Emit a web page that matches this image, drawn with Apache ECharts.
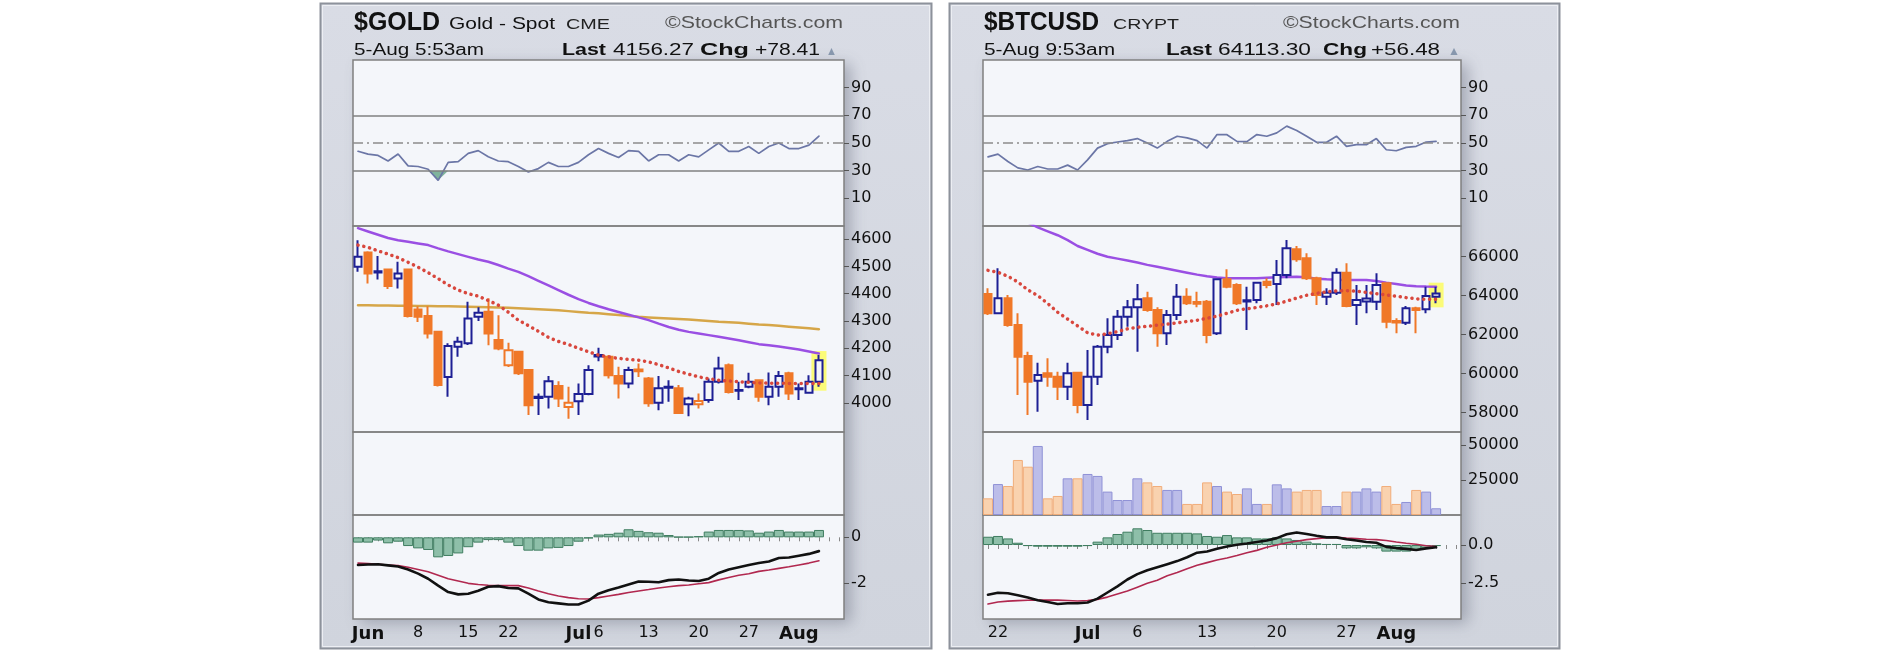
<!DOCTYPE html>
<html><head><meta charset="utf-8">
<script src="https://cdn.jsdelivr.net/npm/echarts@6/dist/echarts.min.js"></script>
<style>html,body{margin:0;padding:0;background:#fff;}#c{width:1882px;height:654px;}</style>
</head><body><div id="c"></div>
<script>
// ---------------- DATA ----------------
const goldLabels = ['', 'Jun', '', '', '', '', '8', '', '', '', '', '15', '', '', '', '22', '', '', '', '', '', '', 'Jul', '', '6', '', '', '', '', '13', '', '', '', '', '20', '', '', '', '', '27', '', '', '', '', 'Aug', '', '', '', ''];
const goldPrevClose = 4480;
const goldOpen  = [4499,4551,4478,4489,4456,4489,4342,4318,4260,4095,4205,4218,4315,4334,4230,4138,4187,4120,4018,4022,4062,3985,4006,4032,4170,4169,4098,4071,4122,4089,4000,4055,4053,3995,3995,4010,4077,4138,4044,4059,4083,4022,4059,4108,4050,4037,4077];
const goldClose = [4535,4474,4482,4428,4474,4318,4315,4254,4065,4208,4224,4309,4330,4254,4199,4193,4108,3991,4022,4079,4016,4000,4032,4120,4175,4101,4071,4120,4116,3998,4053,4059,3963,4016,4007,4077,4126,4040,4047,4077,4022,4059,4098,4034,4053,4077,4156];
const goldLow   = [4480,4437,4452,4417,4419,4313,4296,4236,4060,4022,4169,4212,4300,4211,4193,4131,4102,3955,3955,3979,3985,3942,3955,4028,4152,4089,4016,4053,4095,3986,3973,4004,3961,3951,3979,4000,4071,4034,4010,4053,4004,3991,4022,4010,4010,4034,4059];
const goldHigh  = [4596,4555,4538,4492,4517,4492,4354,4354,4262,4218,4242,4370,4350,4383,4321,4220,4190,4122,4034,4098,4079,4059,4071,4138,4202,4175,4132,4132,4144,4095,4098,4083,4065,4022,4034,4089,4169,4144,4077,4110,4085,4111,4117,4114,4071,4101,4175];
const goldSma20  = [4578,4570,4557,4545,4532,4515,4497,4477,4455,4432,4413,4400,4391,4375,4358,4332,4303,4283,4262,4240,4225,4214,4200,4187,4175,4168,4163,4159,4156,4150,4140,4128,4115,4105,4095,4088,4083,4080,4077,4075,4073,4072,4072,4071,4071,4071,4071];
const goldSma50  = [4640,4628,4616,4604,4596,4590,4584,4578,4566,4555,4545,4535,4525,4517,4505,4492,4480,4464,4447,4430,4413,4396,4380,4366,4354,4343,4333,4323,4313,4303,4290,4278,4268,4260,4254,4248,4242,4236,4229,4222,4215,4211,4206,4201,4195,4188,4181];
const goldSma200 = [4358,4358,4357,4357,4356,4356,4355,4355,4354,4354,4353,4352,4351,4350,4349,4348,4347,4345,4343,4341,4339,4336,4333,4330,4328,4325,4322,4318,4315,4313,4311,4309,4307,4305,4303,4300,4297,4295,4293,4290,4287,4285,4282,4279,4276,4273,4270];
const goldRsi = [44,42,41,37,42,33.5,33,31,23,36,36.5,42.5,44.5,40,37,36.5,33,29,31.5,36,33,33,36,41.5,46,42.5,39.5,44.5,44,37,41.5,41.5,37,41.5,40,45,50,44,44,47.5,42.5,47.5,50,46,46,48.5,55];
const goldMacd = [-1.2,-1.18,-1.17,-1.22,-1.27,-1.4,-1.58,-1.8,-2.1,-2.38,-2.48,-2.45,-2.32,-2.15,-2.12,-2.2,-2.22,-2.45,-2.7,-2.82,-2.87,-2.92,-2.92,-2.75,-2.45,-2.3,-2.18,-2.05,-1.92,-1.93,-1.95,-1.86,-1.83,-1.88,-1.9,-1.8,-1.55,-1.4,-1.3,-1.2,-1.12,-1.05,-0.9,-0.88,-0.8,-0.72,-0.6];
const goldSignal = [-1.12,-1.14,-1.17,-1.2,-1.23,-1.3,-1.4,-1.5,-1.65,-1.8,-1.9,-2.0,-2.05,-2.08,-2.1,-2.1,-2.1,-2.2,-2.33,-2.45,-2.55,-2.62,-2.67,-2.68,-2.62,-2.55,-2.48,-2.4,-2.33,-2.27,-2.2,-2.15,-2.1,-2.07,-2.02,-1.97,-1.85,-1.75,-1.65,-1.58,-1.48,-1.42,-1.35,-1.28,-1.2,-1.12,-1.02];
const goldHist = [-0.23,-0.23,-0.14,-0.26,-0.19,-0.38,-0.48,-0.55,-0.87,-0.81,-0.70,-0.43,-0.23,-0.12,-0.12,-0.23,-0.38,-0.58,-0.58,-0.48,-0.46,-0.38,-0.19,-0.05,0.12,0.15,0.2,0.35,0.28,0.22,0.2,0.1,0.02,0.02,0.05,0.25,0.32,0.32,0.32,0.3,0.2,0.25,0.32,0.25,0.25,0.25,0.32];
const goldRsiTicks = [10, 30, 50, 70, 90];
const goldPriceTicks = [4000, 4100, 4200, 4300, 4400, 4500, 4600];
const goldMacdTicks = [0, -2];

const btcLabels = ['', '22', '', '', '', '', '', '', '', '', 'Jul', '', '', '', '', '6', '', '', '', '', '', '', '13', '', '', '', '', '', '', '20', '', '', '', '', '', '', '27', '', '', '', '', 'Aug', '', '', '', '', '', ''];
const btcPrevClose = 64500;
const btcOpen  = [64085,63094,63863,62496,60906,59641,60017,59846,59333,60051,58393,59846,61385,61983,62923,63402,63863,63265,62068,63008,63949,63680,63692,62068,64838,64547,63700,63778,64718,64598,65060,66376,65914,64889,63949,64154,65180,63521,63700,63692,64632,62700,62616,63350,63300,63949];
const btcClose = [63094,63863,62496,60872,59590,59932,59846,59333,60017,58393,59846,61385,61983,62923,63402,63812,63265,62068,63008,63949,63607,63590,61983,64838,64462,63607,63770,64667,64547,65060,66427,65863,64889,64034,64154,65180,63470,63778,63850,64547,62667,62620,63350,63265,63983,64113];
const btcLow   = [63008,63060,62410,58906,57880,58052,59333,58650,58650,57966,57624,59419,61043,61727,62410,61128,63179,61385,61470,62752,63521,63402,61556,61983,64376,63521,62240,63607,64376,63521,64889,65743,64804,63521,63521,64034,63402,62496,63094,63265,62325,62068,62496,62068,63094,63607];
const btcHigh  = [64376,65402,64034,63094,61128,60564,60786,60103,60564,60103,61214,61470,62838,63265,63778,64598,64205,63402,63265,64598,64376,64205,63778,64889,65350,64632,64462,64718,64889,65829,66855,66547,66171,64974,64376,65402,65658,64547,64547,65145,64667,62838,63470,63436,64462,64462];
const btcSma20 = [65300,65200,65000,64700,64300,64000,63600,63150,62800,62450,62100,61980,62050,62150,62300,62380,62430,62490,62540,62610,62680,62740,62840,62950,63100,63250,63330,63400,63480,63580,63720,63880,64020,64120,64200,64240,64260,64230,64170,64100,64040,63970,63900,63840,63812,63812];
const btcSma50 = [68800,68550,68250,68000,67750,67500,67300,67100,66850,66550,66350,66150,66000,65900,65800,65700,65580,65480,65380,65280,65180,65080,65000,64930,64890,64890,64890,64900,64920,64940,64960,64970,64950,64870,64840,64820,64810,64805,64800,64750,64670,64600,64520,64490,64470,64460];
const btcVolume = [11900,22100,20700,39300,34500,49300,11900,13600,26200,26200,29300,27900,16700,10700,10700,26200,23300,20700,17900,17900,7900,7900,23300,20700,16700,15000,19000,7900,7900,21900,19000,16700,17900,17900,6400,6400,16700,16700,19000,16700,20700,7900,9300,17900,16700,4800];
const btcRsi = [40,42,36.6,32,30.5,33,31.2,31.2,34,30.5,37.8,46.3,49.5,50.7,51.7,53.2,50,46.3,51.2,54.9,53.7,51.7,46.3,56.1,56,51.2,51,56.1,54.9,57.3,62.2,59,54.9,50.5,50.5,54.9,47.6,48.8,48.8,53.2,45.1,44.4,46.8,47.6,50.7,51.2];
const btcMacd = [-3.25,-3.12,-3.15,-3.28,-3.42,-3.6,-3.72,-3.85,-3.8,-3.8,-3.75,-3.5,-3.1,-2.7,-2.25,-1.9,-1.65,-1.45,-1.25,-1.05,-0.8,-0.5,-0.42,-0.25,-0.1,0.02,0.1,0.2,0.3,0.45,0.7,0.82,0.72,0.6,0.5,0.5,0.38,0.3,0.2,0.15,-0.12,-0.2,-0.25,-0.32,-0.22,-0.15];
const btcSignal = [-3.85,-3.72,-3.66,-3.63,-3.61,-3.6,-3.6,-3.6,-3.62,-3.65,-3.62,-3.55,-3.4,-3.2,-3.0,-2.75,-2.5,-2.3,-2.0,-1.8,-1.55,-1.32,-1.15,-0.98,-0.85,-0.68,-0.5,-0.35,-0.15,0.0,0.15,0.25,0.35,0.42,0.48,0.5,0.45,0.42,0.38,0.35,0.3,0.2,0.12,0.05,-0.05,-0.1];
const btcHist = [0.54,0.59,0.43,0.15,-0.07,-0.11,-0.11,-0.11,-0.11,-0.11,-0.07,0.22,0.5,0.72,0.87,1.09,0.98,0.8,0.8,0.8,0.8,0.76,0.59,0.54,0.65,0.5,0.5,0.43,0.43,0.5,0.43,0.33,0.22,0.11,0.07,0.07,-0.22,-0.22,-0.15,-0.22,-0.43,-0.43,-0.43,-0.33,-0.22,-0.07];
const btcRsiTicks = [10, 30, 50, 70, 90];
const btcPriceTicks = [58000, 60000, 62000, 64000, 66000];
const btcVolumeTicks = [25000, 50000];
const btcMacdTicks = [0, -2.5];

// ---------------- STYLE / LAYOUT ----------------
const BLUE = '#1d1f94', ORANGE = '#f07828', PLOTBG = '#f4f6fa';
const VOL_BLUE = ['#bcbde9', '#8f91d6'], VOL_ORANGE = ['#f9d2af', '#f1ad7a'];
const SEP = '#808080';
const Y = {top: 60, rsiB: 226, priceB: 432, volB: 515, bot: 619};
const panels = [
  {ox: 320, ow: 612, px: 353, pw: 491},
  {ox: 949, ow: 611, px: 983, pw: 478}
];
const AXFONT = 'DejaVu Sans';

const grids = [], xAxes = [], yAxes = [], series = [], graphics = [];

function addGrid(p, top, bottom) {
  grids.push({left: p.px, top: top, width: p.pw, height: bottom - top, show: true,
    backgroundColor: 'transparent', borderColor: SEP, borderWidth: 1.5, z: 0, outerBoundsMode: 'none'});
  return grids.length - 1;
}
function addX(gi, labels, show) {
  xAxes.push({type: 'category', gridIndex: gi, data: labels.map((_, i) => String(i)), boundaryGap: true,
    axisLine: {show: false}, splitLine: {show: false},
    axisTick: {show: show, interval: 0, alignWithLabel: true, length: 4, lineStyle: {color: '#888', width: 1}},
    axisLabel: {show: show, interval: 0, margin: 6, color: '#111', fontFamily: AXFONT, fontSize: 16,
      formatter: v => { const s = labels[+v]; if (!s) return ''; return /^\d+$/.test(s) ? s : '{m|' + s + '}'; },
      rich: {m: {fontWeight: 'bold', fontSize: 18, fontFamily: AXFONT, color: '#111'}}}
  });
}
function addY(gi, min, max, ticks, fmt) {
  const has = !!ticks;
  yAxes.push({type: 'value', gridIndex: gi, position: 'right', min: min, max: max, scale: true,
    splitLine: {show: false}, axisLine: {show: false},
    axisTick: {show: has, customValues: ticks, length: 5, lineStyle: {color: '#555'}},
    axisLabel: {show: has, customValues: ticks, margin: 7, color: '#111', fontFamily: AXFONT, fontSize: 16,
      formatter: fmt || (v => String(v))}
  });
}
function candleItems(o, c, l, h, prev) {
  return o.map((op, i) => {
    const pc = i ? c[i - 1] : prev;
    const col = c[i] >= pc ? BLUE : ORANGE;
    const fill = c[i] > op ? PLOTBG : col;
    return {value: [op, c[i], l[i], h[i]],
      itemStyle: {color: fill, color0: fill, borderColor: col, borderColor0: col, borderWidth: 2}};
  });
}
function volumeItems(vol, c, prev) {
  return vol.map((v, i) => {
    const pc = i ? c[i - 1] : prev;
    const s = c[i] >= pc ? VOL_BLUE : VOL_ORANGE;
    return {value: v, itemStyle: {color: s[0], borderColor: s[1], borderWidth: 1}};
  });
}
function lineS(gi, data, color, width, type, z) {
  return {type: 'line', xAxisIndex: gi, yAxisIndex: gi, data: data, symbol: 'none', silent: true, z: z || 4,
    clip: true, lineStyle: {color: color, width: width, type: type || 'solid', cap: 'round'}};
}

function buildPanel(p, d) {
  // RSI
  const g0 = addGrid(p, Y.top, Y.rsiB);
  addX(g0, d.labels, false);
  addY(g0, -10, 110, d.rsiTicks);
  series.push({type: 'line', xAxisIndex: g0, yAxisIndex: g0, stack: 'rsi' + g0, silent: true, symbol: 'none',
    data: d.rsi.map(v => Math.min(v, 30)), lineStyle: {opacity: 0}});
  series.push({type: 'line', xAxisIndex: g0, yAxisIndex: g0, stack: 'rsi' + g0, silent: true, symbol: 'none',
    data: d.rsi.map(v => 30 - Math.min(v, 30)), lineStyle: {opacity: 0}, areaStyle: {color: '#7fb39c', opacity: 1}});
  const rsiLine = lineS(g0, d.rsi, '#6b76a6', 1.7);
  rsiLine.markLine = {silent: true, symbol: 'none', label: {show: false}, animation: false,
    data: [
      {yAxis: 70, lineStyle: {color: SEP, width: 1.5, type: 'solid'}},
      {yAxis: 30, lineStyle: {color: SEP, width: 1.5, type: 'solid'}},
      {yAxis: 50, lineStyle: {color: '#8c8c8c', width: 1.5, type: [10, 4, 2, 4]}}
    ]};
  series.push(rsiLine);

  // Price
  const g1 = addGrid(p, Y.rsiB, Y.priceB);
  addX(g1, d.labels, false);
  addY(g1, d.pMin, d.pMax, d.priceTicks);
  const last = d.close.length - 1;
  series.push({type: 'custom', xAxisIndex: g1, yAxisIndex: g1, z: 1, silent: true,
    data: [[last, d.low[last], d.high[last]]],
    renderItem: (params, api) => {
      const top = api.coord([api.value(0), api.value(2)]);
      const bot = api.coord([api.value(0), api.value(1)]);
      const w = api.size([1, 0])[0] * 1.5;
      return {type: 'rect', shape: {x: top[0] - w / 2, y: top[1] - 4, width: w, height: bot[1] - top[1] + 8},
        style: {fill: '#fbfb78'}};
    }});
  if (d.sma200) series.push(lineS(g1, d.sma200, '#d6a648', 2.5, 'solid', 3));
  series.push(lineS(g1, d.sma50, '#9a4fe3', 2.5, 'solid', 3));
  series.push({type: 'candlestick', xAxisIndex: g1, yAxisIndex: g1, barWidth: 8, z: 4, silent: true,
    data: candleItems(d.open, d.close, d.low, d.high, d.prev)});
  series.push(lineS(g1, d.sma20, '#d8473d', 3.5, [0.1, 5.8], 5));

  // Volume
  const g2 = addGrid(p, Y.priceB, Y.volB);
  addX(g2, d.labels, false);
  addY(g2, 0, d.vMax, d.volTicks);
  if (d.volume) {
    series.push({type: 'bar', xAxisIndex: g2, yAxisIndex: g2, barCategoryGap: '0%', silent: true,
      data: volumeItems(d.volume, d.close, d.prev)});
  }

  // MACD
  const g3 = addGrid(p, Y.volB, Y.bot);
  addX(g3, d.labels, true);
  addY(g3, d.mMin, d.mMax, d.macdTicks, d.macdFmt);
  series.push({type: 'bar', xAxisIndex: g3, yAxisIndex: g3, barCategoryGap: '0%', silent: true, z: 2,
    data: d.hist, itemStyle: {color: '#8ebfa9', borderColor: '#3f7d60', borderWidth: 1}});
  series.push(lineS(g3, d.signal, '#b1284f', 1.6, 'solid', 3));
  series.push(lineS(g3, d.macd, '#111111', 2.6, 'solid', 4));

  // panel background + plot background
  graphics.push({type: 'rect', z: -3, silent: true,
    shape: {x: p.ox + 0.5, y: 3.5, width: p.ow - 1, height: 645},
    style: {fill: {type: 'linear', x: 0, y: 0, x2: 0, y2: 1, colorStops: [{offset: 0, color: '#d9dce5'}, {offset: 1, color: '#d0d4dd'}]},
      stroke: '#8d929b', lineWidth: 2}});
  graphics.push({type: 'rect', z: -3, silent: true,
    shape: {x: p.ox + 2.5, y: 5.5, width: p.ow - 5, height: 641},
    style: {fill: 'none', stroke: '#eceef3', lineWidth: 1}});
  graphics.push({type: 'rect', z: -2, silent: true,
    shape: {x: p.px, y: Y.top, width: p.pw, height: Y.bot - Y.top},
    style: {fill: PLOTBG, shadowBlur: 14, shadowColor: 'rgba(70,75,95,0.35)', shadowOffsetX: 7, shadowOffsetY: 4}});
}

buildPanel(panels[0], {labels: goldLabels, rsi: goldRsi, rsiTicks: goldRsiTicks,
  open: goldOpen, close: goldClose, low: goldLow, high: goldHigh, prev: goldPrevClose,
  sma20: goldSma20, sma50: goldSma50, sma200: goldSma200,
  pMin: 3893, pMax: 4648, priceTicks: goldPriceTicks,
  volume: null, vMax: 1, volTicks: null,
  macd: goldMacd, signal: goldSignal, hist: goldHist, mMin: -3.55, mMax: 0.97, macdTicks: goldMacdTicks});
buildPanel(panels[1], {labels: btcLabels, rsi: btcRsi, rsiTicks: btcRsiTicks,
  open: btcOpen, close: btcClose, low: btcLow, high: btcHigh, prev: btcPrevClose,
  sma20: btcSma20, sma50: btcSma50, sma200: null,
  pMin: 57010, pMax: 67574, priceTicks: btcPriceTicks,
  volume: btcVolume, vMax: 59286, volTicks: btcVolumeTicks,
  macd: btcMacd, signal: btcSignal, hist: btcHist, mMin: -4.83, mMax: 1.96, macdTicks: btcMacdTicks,
  macdFmt: v => v.toFixed(1)});

// ---------------- TEXT ----------------
const mctx = document.createElement('canvas').getContext('2d');
function txt(s, x, cy, font, w, fill) {
  mctx.font = font;
  const mw = mctx.measureText(s).width || 1;
  graphics.push({type: 'text', x: x, y: cy, scaleX: w ? w / mw : 1, z: 10, silent: true,
    style: {text: s, x: 0, y: 0, font: font, fill: fill || '#111', align: 'left', verticalAlign: 'middle'}});
}
const TF = '"Liberation Sans", Arial, sans-serif';
const NF = '"Liberation Sans Narrow", "Liberation Sans", sans-serif';
// gold header
txt('$GOLD', 354, 23, 'bold 25px ' + NF, 86);
txt('Gold - Spot', 449, 24, '17px ' + TF, 106);
txt('CME', 566, 25, '15px ' + TF, 44, '#222');
txt('\u00A9StockCharts.com', 665, 23, '17px ' + TF, 178, '#555');
txt('5-Aug 5:53am', 354, 51, '16px ' + TF, 130);
txt('Last', 562, 50, 'bold 17px ' + TF, 44);
txt('4156.27', 613, 51, '16px ' + TF, 81);
txt('Chg', 700, 50, 'bold 17px ' + TF, 49);
txt('+78.41', 755, 51, '16px ' + TF, 65);
txt('\u25B2', 826, 52, '12px ' + TF, 11, '#8797ad');
// btc header
txt('$BTCUSD', 984, 23, 'bold 25px ' + NF, 115);
txt('CRYPT', 1113, 25, '15px ' + TF, 66, '#222');
txt('\u00A9StockCharts.com', 1283, 23, '17px ' + TF, 177, '#555');
txt('5-Aug 9:53am', 984, 51, '16px ' + TF, 131);
txt('Last', 1166, 50, 'bold 17px ' + TF, 46);
txt('64113.30', 1218, 51, '16px ' + TF, 93);
txt('Chg', 1323, 50, 'bold 17px ' + TF, 44);
txt('+56.48', 1371, 51, '16px ' + TF, 69);
txt('\u25B2', 1448, 52, '12px ' + TF, 12, '#8797ad');

const chart = echarts.init(document.getElementById('c'), null, {renderer: 'canvas', width: 1882, height: 654});
chart.setOption({
  animation: false,
  backgroundColor: '#ffffff',
  grid: grids, xAxis: xAxes, yAxis: yAxes, series: series, graphic: {elements: graphics}
});
</script>
</body></html>
